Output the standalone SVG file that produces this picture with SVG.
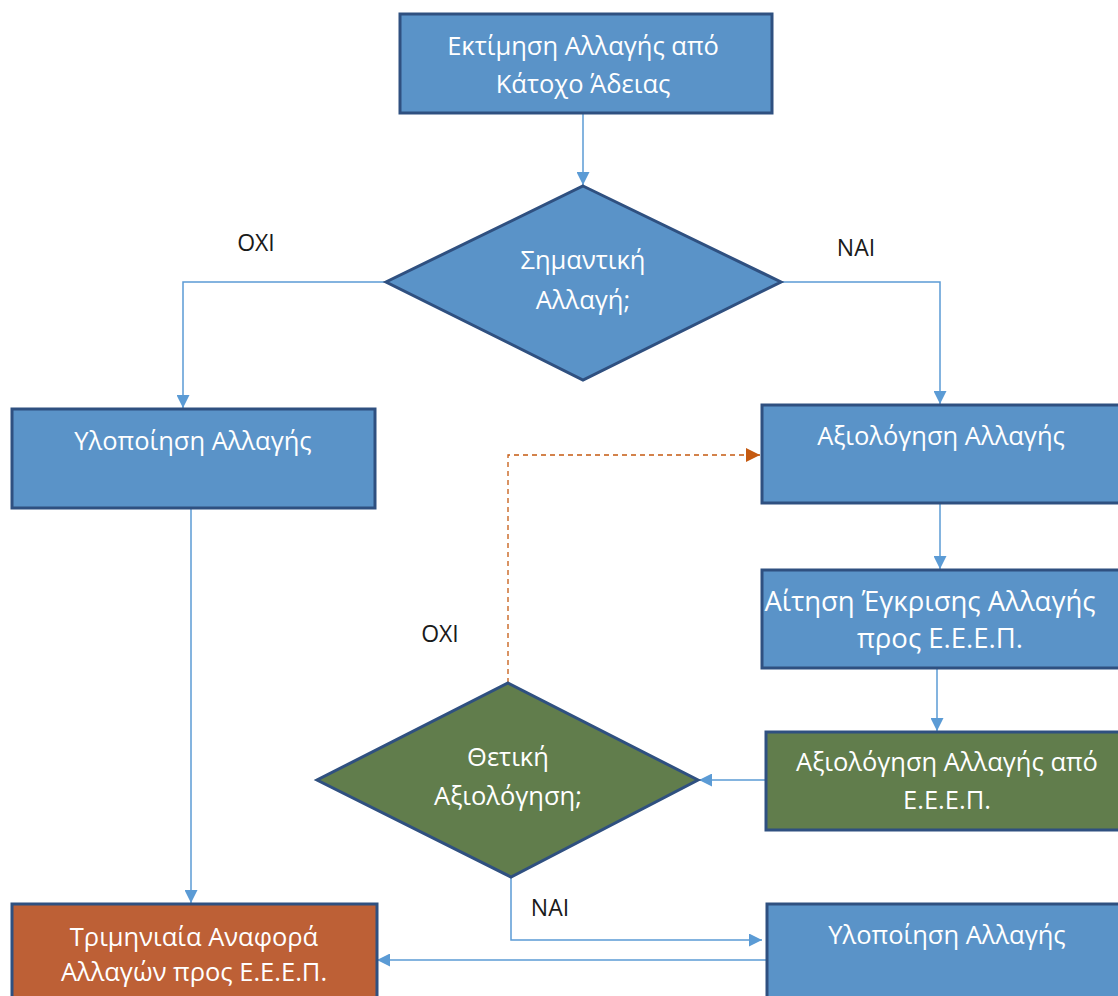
<svg xmlns="http://www.w3.org/2000/svg" width="1118" height="996" viewBox="0 0 1118 996">
<defs>
<style>
.blue{fill:#5A93C8;stroke:#2F5080;stroke-width:3}
.green{fill:#617D4C;stroke:#2F5080;stroke-width:3}
.orange{fill:#BD6036;stroke:#2F5080;stroke-width:3}
.t{font-family:"Open Sans","Liberation Sans",sans-serif;font-size:25.5px;fill:#FFFFFF;text-anchor:middle}
.lbl{font-family:"Open Sans","Liberation Sans",sans-serif;font-size:23px;fill:#1A1A1A;text-anchor:middle}
.c{fill:none;stroke:#5B9BD5;stroke-width:1.5}
.d{fill:none;stroke:#C55A11;stroke-width:1.3;stroke-dasharray:5,4}
</style>
<marker id="ab" viewBox="0 0 10 10" refX="10" refY="5" markerWidth="13" markerHeight="13" markerUnits="userSpaceOnUse" orient="auto"><path d="M0,0 L10,5 L0,10 z" fill="#5B9BD5"/></marker>
<marker id="ao" viewBox="0 0 10 10" refX="10" refY="5" markerWidth="14" markerHeight="14" markerUnits="userSpaceOnUse" orient="auto"><path d="M0,0 L10,5 L0,10 z" fill="#C55A11"/></marker>
</defs>
<rect width="1118" height="996" fill="#FFFFFF"/>
<g id="connectors">
<path class="c" d="M583,113 V185" marker-end="url(#ab)"/>
<path class="c" d="M386,282 H183 V408" marker-end="url(#ab)"/>
<path class="c" d="M781,282 H940 V404" marker-end="url(#ab)"/>
<path class="c" d="M940,503 V569" marker-end="url(#ab)"/>
<path class="c" d="M937,668 V731" marker-end="url(#ab)"/>
<path class="c" d="M766,780 H699" marker-end="url(#ab)"/>
<path class="c" d="M511,877 V940 H762" marker-end="url(#ab)"/>
<path class="c" d="M767,960 H377" marker-end="url(#ab)"/>
<path class="c" d="M191,508 V903" marker-end="url(#ab)"/>
<path class="d" d="M508,683 V455 H760" marker-end="url(#ao)"/>
<text class="lbl" x="256" y="251">OXI</text>
<text class="lbl" x="856" y="256">NAI</text>
<text class="lbl" x="440" y="642">OXI</text>
<text class="lbl" x="550" y="916">NAI</text>
</g>
<g id="n1">
<rect class="blue" x="400" y="14" width="372" height="99"/>
<text class="t" x="583" y="55">Εκτίμηση Αλλαγής από</text>
<text class="t" x="583" y="93">Κάτοχο Άδειας</text>
</g>
<g id="n2">
<polygon class="blue" points="583,186 781,282 583,380 386,282"/>
<text class="t" x="583" y="269">Σημαντική</text>
<text class="t" x="583" y="309">Αλλαγή;</text>
</g>
<g id="n3">
<rect class="blue" x="12" y="409" width="363" height="99"/>
<text class="t" x="193" y="450">Υλοποίηση Αλλαγής</text>
</g>
<g id="n4">
<rect class="blue" x="762" y="405" width="360" height="98"/>
<text class="t" x="941" y="445">Αξιολόγηση Αλλαγής</text>
</g>
<g id="n5">
<rect class="blue" x="762" y="570" width="360" height="98"/>
<text class="t" x="930" y="611" style="font-size:27.5px">Αίτηση Έγκρισης Αλλαγής</text>
<text class="t" x="940" y="648" style="font-size:27.5px">προς Ε.Ε.Ε.Π.</text>
</g>
<g id="n6">
<rect class="green" x="766" y="732" width="356" height="98"/>
<text class="t" x="947" y="771">Αξιολόγηση Αλλαγής από</text>
<text class="t" x="947" y="809">Ε.Ε.Ε.Π.</text>
</g>
<g id="n7">
<polygon class="green" points="508,683 698,780 511,877 317,780"/>
<text class="t" x="508" y="766">Θετική</text>
<text class="t" x="508" y="805">Αξιολόγηση;</text>
</g>
<g id="n8">
<rect class="blue" x="767" y="904" width="355" height="100"/>
<text class="t" x="947" y="944">Υλοποίηση Αλλαγής</text>
</g>
<g id="n9">
<rect class="orange" x="12" y="904" width="365" height="100"/>
<text class="t" x="194" y="946">Τριμηνιαία Αναφορά</text>
<text class="t" x="194" y="981">Αλλαγών προς Ε.Ε.Ε.Π.</text>
</g>
</svg>
